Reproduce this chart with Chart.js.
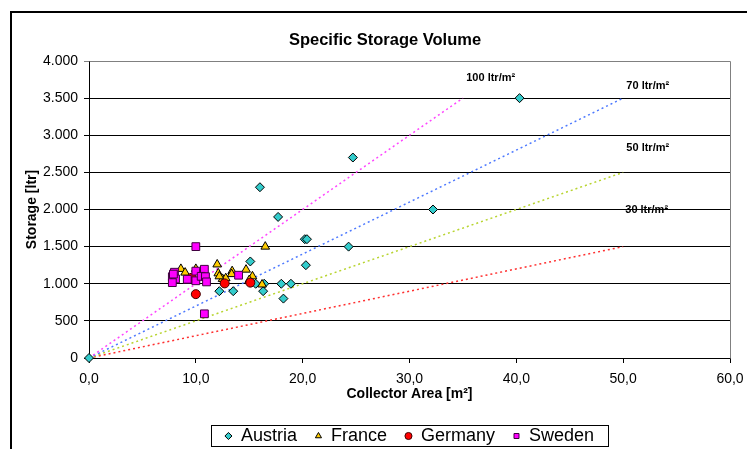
<!DOCTYPE html>
<html>
<head>
<meta charset="utf-8">
<script src="https://cdn.jsdelivr.net/npm/chart.js@4.4.1/dist/chart.umd.min.js"></script>
<style>
  html, body { margin: 0; padding: 0; background: #fff; overflow: hidden; }
  #wrap { position: relative; width: 747px; height: 449px; }
</style>
</head>
<body>
<div id="wrap"><canvas id="storageChart" width="747" height="449"></canvas></div>
<script>
// Collector area [m²] / storage [ltr] per country
const austriaArea    = [0, 40.3, 24.7, 16.0, 17.7, 32.2, 20.2, 20.4, 24.3, 20.3, 15.1, 15.6, 16.4, 18.0, 18.9, 16.3, 18.2, 13.5, 12.2];
const austriaStorage = [0, 3500, 2700, 2300, 1900, 2000, 1600, 1600, 1500, 1250, 1300, 1000, 1000, 1000, 1000, 900, 800, 900, 900];

const franceArea    = [16.5, 8.6, 9.0, 10.0, 12.0, 12.1, 13.4, 13.35, 14.7, 15.3, 12.5, 12.8, 15.0, 16.2, 12.2];
const franceStorage = [1500, 1200, 1150, 1200, 1260, 1140, 1170, 1130, 1190, 1100, 1065, 1075, 1050, 990, 1100];

const germanyArea    = [10.0, 9.6, 12.7, 15.1];
const germanyStorage = [860, 1080, 1005, 1015];

const swedenArea    = [10.0, 8.0, 7.8, 8.1, 7.8, 9.2, 10.0, 10.8, 10.0, 10.5, 10.9, 11.0, 14.0, 10.8, 7.9];
const swedenStorage = [1500, 1155, 1095, 1065, 1015, 1060, 1170, 1195, 1040, 1100, 1095, 1025, 1115, 595, 1130];

// Specific storage reference lines (start at origin)
const ratioNames      = ['100 ltr/m²', '70 ltr/m²', '50 ltr/m²', '30 ltr/m²'];
const ratioEndArea    = [35, 50, 50, 50];
const ratioEndStorage = [3500, 3500, 2500, 1500];
const ratioColors     = ['#ff44ff', '#4d79ff', '#b8d430', '#ff3030'];
// where the line names sit, in axis units
const ratioLabelArea    = [37.6, 52.3, 52.3, 52.2];
const ratioLabelStorage = [3775, 3665, 2830, 1995];

const xTicks = [0, 10, 20, 30, 40, 50, 60];
const yTicks = [0, 500, 1000, 1500, 2000, 2500, 3000, 3500, 4000];

const FONT = "'Liberation Sans', Arial, Helvetica, sans-serif";

function pairs(xs, ys) {
  return xs.map((x, i) => ({ x: x, y: ys[i] }));
}

const pointSets = [
  { label: 'Austria', data: pairs(austriaArea, austriaStorage), pointStyle: 'rectRot', pointRadius: 4.5,
    backgroundColor: '#33cccc', borderColor: '#000', borderWidth: 1, order: 4, clip: false },
  { label: 'France', data: pairs(franceArea, franceStorage), pointStyle: 'triangle', pointRadius: 5,
    backgroundColor: '#ffcc00', borderColor: '#000', borderWidth: 1, order: 3, clip: false },
  { label: 'Germany', data: pairs(germanyArea, germanyStorage), pointStyle: 'circle', pointRadius: 4.5,
    backgroundColor: '#ff0000', borderColor: '#400000', borderWidth: 1, order: 2, clip: false },
  { label: 'Sweden', data: pairs(swedenArea, swedenStorage), pointStyle: 'rect', pointRadius: 5.5,
    backgroundColor: '#ff00ff', borderColor: '#400040', borderWidth: 1, order: 1, clip: false }
];

const lineSets = ratioNames.map((name, i) => ({
  label: name,
  data: [{ x: 0, y: 0 }, { x: ratioEndArea[i], y: ratioEndStorage[i] }],
  showLine: true,
  borderColor: ratioColors[i],
  borderWidth: 1.5,
  borderDash: [2, 3],
  pointRadius: 0,
  order: 10 + i
}));

function fmtThousands(v) {
  return String(v).replace(/\B(?=(\d{3})+(?!\d))/g, '.');
}

// background, outer frame, plot border, line names, legend frame, title
const decorations = {
  id: 'decorations',
  beforeDraw(chart) {
    const ctx = chart.ctx;
    const xs = chart.scales.x, ys = chart.scales.y;
    ctx.save();
    ctx.fillStyle = '#fff';
    ctx.fillRect(0, 0, chart.width, chart.height);
    ctx.fillStyle = '#000';
    ctx.font = 'bold 11px ' + FONT;
    ctx.textAlign = 'center';
    ctx.textBaseline = 'middle';
    ratioNames.forEach((name, i) => {
      ctx.fillText(name, xs.getPixelForValue(ratioLabelArea[i]), ys.getPixelForValue(ratioLabelStorage[i]));
    });
    ctx.restore();
  },
  beforeDatasetsDraw(chart) {
    const ctx = chart.ctx;
    const a = chart.chartArea;
    ctx.save();
    ctx.strokeStyle = '#808080';
    ctx.lineWidth = 1;
    ctx.beginPath();
    ctx.moveTo(Math.round(a.left) + 0.5, Math.round(a.top) + 0.5);
    ctx.lineTo(Math.round(a.right) + 0.5, Math.round(a.top) + 0.5);
    ctx.lineTo(Math.round(a.right) + 0.5, Math.round(a.bottom) + 0.5);
    ctx.stroke();
    ctx.restore();
  },
  afterDraw(chart) {
    const ctx = chart.ctx;
    ctx.save();
    // outer chart frame
    ctx.strokeStyle = '#000';
    ctx.lineWidth = 2;
    ctx.strokeRect(11, 12, 1000, 1000);
    // legend frame
    const boxes = chart.legend.legendHitBoxes;
    if (boxes && boxes.length) {
      const first = boxes[0], last = boxes[boxes.length - 1];
      const l = first.left - 14, r = last.left + last.width + 14;
      const t = first.top - 2, b = first.top + first.height + 1;
      ctx.lineWidth = 1;
      ctx.strokeRect(Math.round(l) + 0.5, Math.round(t) + 0.5, Math.round(r - l), Math.round(b - t));
    }
    // title
    ctx.fillStyle = '#000';
    ctx.font = 'bold 16.5px ' + FONT;
    ctx.textAlign = 'center';
    ctx.textBaseline = 'middle';
    ctx.fillText('Specific Storage Volume', 385, 40);
    ctx.restore();
  }
};

new Chart(document.getElementById('storageChart'), {
  type: 'scatter',
  data: { datasets: pointSets.concat(lineSets) },
  plugins: [decorations],
  options: {
    responsive: false,
    animation: false,
    devicePixelRatio: 1,
    layout: { padding: { left: 11, right: 17, top: 61, bottom: -6 } },
    plugins: {
      title: { display: false },
      tooltip: { enabled: false },
      legend: {
        position: 'bottom',
        fullSize: false,
        labels: {
          usePointStyle: true,
          boxWidth: 7,
          boxHeight: 5,
          padding: 18,
          color: '#000',
          font: { family: FONT, size: 18 },
          filter: item => item.datasetIndex < 4,
          sort: (a, b) => a.datasetIndex - b.datasetIndex
        }
      }
    },
    scales: {
      x: {
        type: 'linear',
        min: 0, max: 60,
        afterBuildTicks: s => { s.ticks = xTicks.map(v => ({ value: v })); },
        afterFit: s => { s.height = 51; s.paddingRight = 0; s.paddingLeft = 0; },
        ticks: {
          color: '#000', padding: 8,
          font: { family: FONT, size: 14 },
          callback: v => v.toFixed(1).replace('.', ',')
        },
        grid: { drawOnChartArea: false, drawTicks: true, tickLength: 5, color: '#000' },
        border: { color: '#000', width: 1 },
        title: {
          display: true, text: 'Collector Area [m²]', color: '#000',
          font: { family: FONT, size: 14, weight: 'bold' },
          padding: { top: 0, bottom: 6 }
        }
      },
      y: {
        type: 'linear',
        min: 0, max: 4000,
        afterBuildTicks: s => { s.ticks = yTicks.map(v => ({ value: v })); },
        afterFit: s => { s.width = 78; },
        ticks: {
          color: '#000', padding: 6,
          font: { family: FONT, size: 14 },
          callback: v => fmtThousands(v)
        },
        grid: {
          color: c => (c.tick && c.tick.value === 4000) ? '#808080' : '#000',
          lineWidth: 1, tickLength: 5, drawTicks: true
        },
        border: { color: '#000', width: 1 },
        title: {
          display: true, text: 'Storage [ltr]', color: '#000',
          font: { family: FONT, size: 14, weight: 'bold' },
          padding: { top: 13, bottom: 0 }
        }
      }
    }
  }
});
</script>
</body>
</html>
